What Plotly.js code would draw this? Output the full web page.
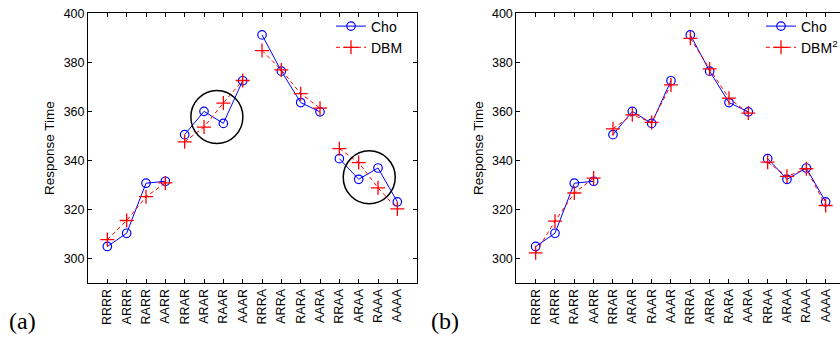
<!DOCTYPE html>
<html><head><meta charset="utf-8">
<script src="https://cdn.plot.ly/plotly-3.0.1.min.js"></script>
<style>html,body{margin:0;padding:0;overflow:hidden;background:#fff;width:840px;height:337px}</style>
</head><body><div id="chart" style="width:850px;height:337px"></div>
<script>
const categories = ["RRRR","ARRR","RARR","AARR","RRAR","ARAR","RAAR","AAAR","RRRA","ARRA","RARA","AARA","RRAA","ARAA","RAAA","AAAA"];
const choValues = [304.9,310.3,330.7,331.5,350.5,360.0,355.1,372.5,391.2,376.4,363.6,359.8,340.7,332.3,336.9,323.1];
const dbmValues = [307.7,315.5,325.2,330.8,347.6,353.6,363.4,372.6,384.8,376.9,367.2,361.3,344.8,339.1,328.8,320.2];
const dbm2Values = [302.3,315.2,326.7,332.8,352.9,358.6,355.5,370.8,389.8,377.3,365.4,359.3,339.3,333.5,336.6,321.6];
const yTickValues = [300,320,340,360,380,400];
const panelLabels = ["(a)","(b)"];

const W = 850, H = 337;
const px = v => v / W, py = v => 1 - v / H;

const choStyle = {mode:"lines+markers", line:{color:"#0000ff", width:1}, marker:{symbol:"circle-open", size:8.5, color:"#0000ff", line:{width:1.2}}};
const dbmStyle = {mode:"lines+markers", line:{color:"#ff0000", width:1, dash:"4px,3px"}, marker:{symbol:"cross-thin-open", size:10, color:"#ff0000", line:{width:1.3, color:"#ff0000"}}};

const traces = [];
function addSeries(values, name, style, xa, ya, legendId) {
  for (let g = 0; g < 4; g++) {
    traces.push(Object.assign({
      type:"scatter",
      x: categories.slice(4*g, 4*g+4),
      y: values.slice(4*g, 4*g+4),
      xaxis: xa, yaxis: ya,
      name: name, legendgroup: name + legendId, legend: legendId,
      showlegend: g === 0
    }, JSON.parse(JSON.stringify(style))));
  }
}
addSeries(choValues, "Cho", choStyle, "x", "y", "legend");
addSeries(dbmValues, "DBM", dbmStyle, "x", "y", "legend");
addSeries(choValues, "Cho", choStyle, "x2", "y2", "legend2");
addSeries(dbm2Values, "DBM<sup>2</sup>", dbmStyle, "x2", "y2", "legend2");

const tickFont = {family:"Liberation Sans, Arial, sans-serif", size:12.5, color:"#000"};
function xAxis(domain, anchor) {
  return {domain, anchor, type:"category", categoryorder:"array", categoryarray:categories,
    range:[-1,16], tickangle:-90, ticks:"inside", ticklen:4, tickcolor:"#000", tickwidth:1,
    showline:true, linecolor:"#000", linewidth:1, mirror:"ticks", showgrid:false, zeroline:false,
    tickfont:tickFont, fixedrange:true};
}
function yAxis(anchor) {
  return {domain:[1-283/H, 1-13.3/H], anchor, range:[290,400], tickvals:yTickValues,
    ticks:"inside", ticklen:4, tickcolor:"#000", tickwidth:1,
    showline:true, linecolor:"#000", linewidth:1, mirror:"ticks", showgrid:false, zeroline:false,
    tickfont:tickFont, title:{text:"Response Time", font:{family:"Liberation Sans, Arial, sans-serif", size:13.5, color:"#000"}, standoff:5}};
}
const legendFont = {family:"Liberation Sans, Arial, sans-serif", size:14, color:"#000"};
const layout = {
  width:W, height:H, margin:{l:0,r:0,t:0,b:0}, paper_bgcolor:"#fff", plot_bgcolor:"#fff",
  xaxis: xAxis([px(88), px(416.7)], "y"),
  yaxis: yAxis("x"),
  xaxis2: xAxis([px(516.3), px(845)], "y2"),
  yaxis2: yAxis("x2"),
  legend: {x:px(331), y:py(10.5), xanchor:"left", yanchor:"top", bgcolor:"rgba(0,0,0,0)", font:legendFont, tracegroupgap:0, itemwidth:30},
  legend2: {x:px(761), y:py(10.5), xanchor:"left", yanchor:"top", bgcolor:"rgba(0,0,0,0)", font:legendFont, tracegroupgap:0, itemwidth:30},
  shapes: [
    {type:"circle", xref:"x", yref:"y", x0:4.32, x1:7.01, y0:346.9, y1:368.5, line:{color:"#000", width:1.5}},
    {type:"circle", xref:"x", yref:"y", x0:12.2, x1:14.89, y0:322.3, y1:343.9, line:{color:"#000", width:1.5}}
  ],
  annotations: [
    {text:panelLabels[0], xref:"paper", yref:"paper", x:px(7), y:py(321), xanchor:"left", yanchor:"middle", showarrow:false, font:{family:"Liberation Serif, Times New Roman, serif", size:24, color:"#000"}},
    {text:panelLabels[1], xref:"paper", yref:"paper", x:px(429), y:py(321), xanchor:"left", yanchor:"middle", showarrow:false, font:{family:"Liberation Serif, Times New Roman, serif", size:24, color:"#000"}}
  ]
};
Plotly.newPlot("chart", traces, layout, {displayModeBar:false, staticPlot:true});
</script></body></html>
